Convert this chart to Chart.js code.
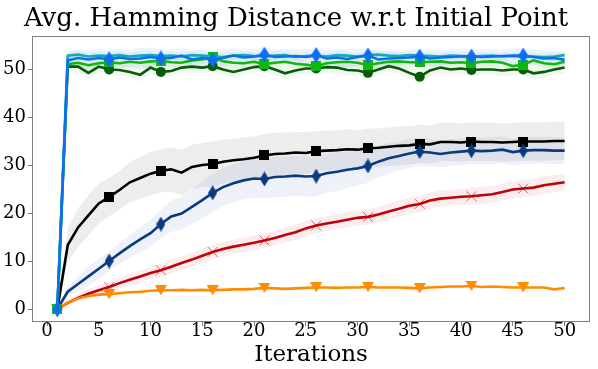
<!DOCTYPE html>
<html>
<head>
<meta charset="utf-8">
<script src="https://cdn.jsdelivr.net/npm/chart.js@4.4.1/dist/chart.umd.min.js"></script>
<style>
  html, body { margin: 0; padding: 0; background: #fff; }
</style>
</head>
<body>
<canvas id="chart" width="598" height="369"></canvas>
<script>
// iterations 1..50
const iterations = Array.from({ length: 50 }, (_, i) => i + 1)
const xTicks = [0, 5, 10, 15, 20, 25, 30, 35, 40, 45, 50]
const yTicks = [0, 10, 20, 30, 40, 50]

const blueMean = [0, 51.8, 52.3, 52.0, 52.3, 52.0, 52.4, 52.1, 52.2, 52.5, 52.2, 52.3, 52.8, 52.0, 52.3, 51.9, 52.3, 52.8, 52.4, 52.6, 53.0, 52.5, 52.6, 52.7, 52.5, 52.9, 52.2, 52.4, 52.1, 52.5, 52.8, 52.0, 52.2, 52.3, 52.4, 52.6, 52.2, 52.4, 52.5, 52.6, 52.6, 52.5, 52.6, 52.7, 52.8, 52.8, 52.5, 52.2, 52.3, 51.9]
const blueStd = [0, 1.5, 1.8, 1.8, 2.0, 2.0, 1.8, 1.8, 2.2, 2.0, 1.8, 1.8, 1.6, 2.0, 1.8, 2.0, 1.8, 1.6, 1.6, 1.6, 1.5, 1.6, 1.6, 1.5, 1.6, 1.5, 1.8, 1.8, 2.0, 1.8, 1.6, 1.8, 1.8, 1.6, 1.6, 1.6, 1.8, 1.6, 1.6, 1.5, 1.5, 1.6, 1.5, 1.5, 1.5, 1.5, 1.6, 1.6, 1.5, 1.5]

const tealMean = [0, 52.8, 53.0, 52.6, 52.8, 52.7, 52.9, 52.6, 52.8, 52.9, 52.7, 52.8, 52.6, 52.9, 52.8, 52.6, 52.5, 52.8, 52.9, 52.7, 52.6, 52.8, 52.9, 52.5, 52.7, 52.8, 52.6, 52.9, 52.8, 52.6, 52.9, 53.0, 52.8, 52.7, 52.9, 52.8, 52.7, 52.6, 52.8, 52.7, 52.6, 52.7, 52.8, 52.6, 52.7, 52.5, 52.6, 52.5, 52.6, 52.9]
const tealStd = [0, 0.8, 0.9, 0.8, 0.8, 0.9, 0.8, 0.8, 0.9, 0.8, 0.8, 0.8, 0.9, 0.8, 0.8, 0.8, 0.9, 0.8, 0.8, 0.8, 0.8, 0.9, 0.8, 0.8, 0.8, 0.8, 0.8, 0.9, 0.8, 0.8, 0.8, 0.8, 0.9, 0.8, 0.8, 0.8, 0.8, 0.8, 0.9, 0.8, 0.8, 0.8, 0.8, 0.9, 0.8, 0.8, 0.8, 0.8, 0.8, 0.8]

const greenMean = [0, 51.0, 51.3, 50.8, 51.2, 51.4, 51.2, 51.5, 51.3, 51.6, 51.7, 51.4, 51.3, 51.8, 52.0, 52.6, 51.6, 51.3, 51.2, 51.5, 51.0, 51.3, 51.5, 51.1, 50.9, 50.6, 51.2, 51.4, 51.5, 51.3, 50.8, 51.2, 51.5, 51.6, 51.4, 51.4, 51.5, 51.6, 51.3, 51.4, 51.2, 51.5, 51.6, 51.3, 50.6, 50.9, 51.8, 51.2, 51.0, 51.5]
const greenStd = [0, 1.0, 1.0, 1.1, 1.0, 1.0, 1.0, 1.1, 1.0, 1.0, 1.0, 1.0, 1.1, 1.0, 1.0, 1.0, 1.0, 1.1, 1.0, 1.0, 1.0, 1.0, 1.1, 1.0, 1.0, 1.0, 1.0, 1.0, 1.1, 1.0, 1.0, 1.0, 1.0, 1.0, 1.1, 1.0, 1.0, 1.0, 1.0, 1.0, 1.1, 1.0, 1.0, 1.0, 1.0, 1.0, 1.0, 1.0, 1.0, 1.0]

const darkGreenMean = [0, 50.5, 50.5, 49.2, 50.5, 49.9, 49.8, 49.4, 48.8, 50.3, 49.4, 49.6, 50.3, 50.5, 50.3, 50.6, 49.9, 49.4, 49.9, 50.4, 50.6, 49.9, 49.1, 49.7, 50.1, 50.1, 50.4, 50.3, 49.8, 49.7, 49.2, 49.9, 50.6, 50.1, 49.2, 48.4, 49.7, 50.3, 49.9, 50.1, 49.8, 49.9, 49.9, 49.7, 49.9, 49.9, 49.1, 49.4, 49.9, 50.3]
const darkGreenStd = [0, 1.2, 1.2, 1.3, 1.2, 1.2, 1.2, 1.3, 1.4, 1.2, 1.2, 1.2, 1.2, 1.2, 1.2, 1.2, 1.2, 1.3, 1.2, 1.2, 1.2, 1.2, 1.3, 1.2, 1.2, 1.2, 1.2, 1.2, 1.2, 1.2, 1.3, 1.2, 1.2, 1.2, 1.3, 1.4, 1.2, 1.2, 1.2, 1.2, 1.2, 1.2, 1.2, 1.2, 1.2, 1.2, 1.3, 1.2, 1.2, 1.2]

const blackMean = [0, 13.3, 17.0, 19.5, 22.0, 23.3, 24.8, 26.4, 27.3, 28.2, 28.8, 29.1, 28.4, 29.6, 30.0, 30.2, 30.7, 31.0, 31.2, 31.5, 32.0, 32.3, 32.4, 32.6, 32.5, 32.9, 33.0, 33.1, 33.3, 33.2, 33.5, 33.6, 33.8, 34.0, 34.1, 34.4, 34.3, 34.8, 34.8, 34.7, 34.9, 34.8, 34.8, 34.7, 34.8, 34.9, 34.9, 34.9, 35.0, 35.0]
const blackStd = [0, 3.5, 4.0, 4.2, 4.2, 4.0, 4.0, 4.2, 4.3, 4.5, 4.5, 4.6, 4.8, 4.6, 4.6, 4.7, 4.6, 4.5, 4.6, 4.5, 4.4, 4.5, 4.4, 4.3, 4.4, 4.2, 4.2, 4.1, 4.2, 4.0, 4.1, 4.0, 4.0, 4.1, 4.0, 4.0, 4.0, 4.0, 4.0, 4.0, 4.0, 4.0, 4.0, 4.0, 4.0, 4.0, 4.0, 4.0, 4.0, 4.0]

const navyMean = [0, 3.6, 5.2, 6.8, 8.4, 10.0, 11.6, 13.1, 14.5, 15.8, 17.7, 19.3, 19.9, 21.3, 22.7, 24.2, 25.4, 26.2, 26.8, 27.2, 27.1, 27.5, 27.6, 27.8, 27.6, 27.7, 28.3, 28.6, 29.0, 29.3, 29.8, 30.7, 31.4, 31.9, 32.4, 32.8, 32.6, 32.3, 32.6, 32.8, 33.0, 32.9, 33.0, 33.2, 32.7, 33.0, 33.1, 33.1, 33.0, 33.0]
const navyStd = [0, 1.0, 1.5, 2.0, 2.0, 2.0, 2.2, 2.4, 2.6, 2.8, 3.0, 3.2, 3.4, 3.6, 3.8, 4.0, 4.0, 4.0, 4.0, 4.0, 4.0, 4.2, 4.2, 4.2, 4.2, 4.2, 4.0, 4.0, 3.8, 3.6, 3.5, 3.3, 3.2, 3.0, 3.0, 3.0, 2.8, 2.8, 2.8, 2.8, 2.8, 2.8, 2.8, 2.8, 2.8, 2.8, 2.8, 2.8, 2.8, 2.8]

const redMean = [0, 1.3, 2.3, 3.2, 3.9, 4.6, 5.4, 6.1, 6.8, 7.5, 8.1, 8.8, 9.6, 10.3, 11.1, 11.9, 12.5, 13.0, 13.4, 13.8, 14.3, 14.8, 15.4, 16.0, 16.8, 17.4, 17.8, 18.2, 18.6, 19.0, 19.2, 19.7, 20.3, 20.9, 21.5, 21.9, 22.6, 23.0, 23.2, 23.4, 23.5, 23.7, 23.9, 24.4, 24.9, 25.1, 25.3, 25.8, 26.1, 26.4]
const redStd = [0, 0.5, 0.8, 1.0, 1.0, 1.0, 1.1, 1.2, 1.2, 1.3, 1.3, 1.4, 1.4, 1.5, 1.5, 1.5, 1.5, 1.5, 1.5, 1.5, 1.5, 1.5, 1.5, 1.6, 1.6, 1.6, 1.6, 1.6, 1.6, 1.6, 1.6, 1.6, 1.7, 1.7, 1.7, 1.7, 1.7, 1.7, 1.7, 1.7, 1.8, 1.8, 1.8, 1.8, 1.8, 1.8, 1.8, 1.8, 1.8, 1.8]

const orangeMean = [0, 1.4, 2.2, 2.7, 3.0, 3.1, 3.3, 3.5, 3.6, 3.8, 3.9, 3.9, 4.0, 3.9, 4.0, 3.9, 4.0, 4.1, 4.1, 4.2, 4.4, 4.3, 4.2, 4.3, 4.4, 4.5, 4.5, 4.4, 4.5, 4.5, 4.6, 4.5, 4.5, 4.5, 4.4, 4.3, 4.5, 4.6, 4.7, 4.7, 4.8, 4.6, 4.7, 4.6, 4.5, 4.5, 4.5, 4.5, 4.1, 4.4]
const orangeStd = [0, 0.3, 0.3, 0.3, 0.3, 0.3, 0.3, 0.3, 0.3, 0.3, 0.3, 0.3, 0.3, 0.3, 0.3, 0.3, 0.3, 0.3, 0.3, 0.3, 0.3, 0.3, 0.3, 0.3, 0.3, 0.3, 0.3, 0.3, 0.3, 0.3, 0.3, 0.3, 0.3, 0.3, 0.3, 0.3, 0.3, 0.3, 0.3, 0.3, 0.3, 0.3, 0.3, 0.3, 0.3, 0.3, 0.3, 0.3, 0.3, 0.3]

const FONT = "DejaVu Serif"
Chart.defaults.font.family = FONT
Chart.defaults.color = "#000"

// small canvas markers for shapes chart.js has no built-in for
function marker(shape, color, w, h) {
  const c = document.createElement("canvas")
  c.width = w
  c.height = h
  const g = c.getContext("2d")
  g.fillStyle = color
  g.beginPath()
  if (shape === "square") {
    g.rect(0, 0, w, h)
  } else if (shape === "diamond") {
    g.moveTo(w / 2, 0)
    g.lineTo(w, h / 2)
    g.lineTo(w / 2, h)
    g.lineTo(0, h / 2)
  } else if (shape === "tridown") {
    g.moveTo(0, 0)
    g.lineTo(w, 0)
    g.lineTo(w / 2, h)
  }
  g.closePath()
  g.fill()
  return c
}

const series = [
  { mean: blueMean, std: blueStd, color: "#0d6ef2", band: "rgba(40,110,240,0.08)", style: marker("diamond", "#0d6ef2", 10, 16), r: 6 },
  { mean: tealMean, std: tealStd, color: "#17a9b9", band: "rgba(0,175,190,0.08)", style: "circle", r: 0 },
  { mean: greenMean, std: greenStd, color: "#0fb80f", band: "rgba(0,180,0,0.08)", style: marker("square", "#0fb80f", 10, 10), r: 5 },
  { mean: darkGreenMean, std: darkGreenStd, color: "#075c07", band: "rgba(0,90,0,0.05)", style: "circle", r: 5 },
  { mean: navyMean, std: navyStd, color: "#0a3a80", band: "rgba(20,60,140,0.07)", style: marker("diamond", "#0a3a80", 9, 15), r: 6 },
  { mean: orangeMean, std: orangeStd, color: "#ff8c00", band: "rgba(255,140,0,0.05)", style: marker("tridown", "#ff8c00", 12, 10), r: 5 },
  { mean: blackMean, std: blackStd, color: "#000000", band: "rgba(0,0,0,0.07)", style: marker("square", "#000000", 10, 10), r: 5 },
  { mean: redMean, std: redStd, color: "#c0000a", band: "rgba(200,0,0,0.07)", style: "crossRot", r: 7 },
]

const toPoints = arr => arr.map((v, i) => ({ x: iterations[i], y: v }))

const datasets = []
// bands: lower edge then upper edge filled down to it
series.forEach(s => {
  const lo = s.mean.map((m, i) => m - s.std[i])
  const hi = s.mean.map((m, i) => m + s.std[i])
  const loIndex = datasets.length
  datasets.push({ data: toPoints(lo), borderWidth: 0, pointRadius: 0, fill: false, order: 20 })
  datasets.push({ data: toPoints(hi), borderWidth: 0, pointRadius: 0, fill: { target: loIndex }, backgroundColor: s.band, order: 20 })
})
series.forEach((s, k) => {
  datasets.push({
    data: toPoints(s.mean),
    borderColor: s.color,
    backgroundColor: s.color,
    borderWidth: 2.6,
    tension: 0,
    fill: false,
    order: k,
    pointStyle: s.style,
    pointRadius: ctx => (ctx.dataIndex % 5 === 0 ? s.r : 0),
    pointBorderWidth: s.style === "crossRot" ? 1 : 0,
    pointBorderColor: s.style === "crossRot" ? "rgba(200,0,10,0.6)" : s.color,
    pointBackgroundColor: s.color,
  })
})

const frame = {
  id: "frame",
  beforeDatasetsDraw(chart) {
    const { ctx, chartArea: a } = chart
    ctx.save()
    ctx.strokeStyle = "#808080"
    ctx.lineWidth = 1
    ctx.strokeRect(Math.round(a.left) + 0.5, Math.round(a.top) + 0.5, Math.round(a.right - a.left) - 1, Math.round(a.bottom - a.top) - 1)
    ctx.restore()
  },
}

new Chart(document.getElementById("chart"), {
  type: "line",
  data: { datasets },
  plugins: [frame],
  options: {
    responsive: false,
    animation: false,
    layout: { padding: { left: 0, right: 6, top: 0, bottom: 0 } },
    plugins: {
      legend: { display: false },
      tooltip: { enabled: false },
      filler: { drawTime: "beforeDatasetsDraw" },
      title: {
        display: true,
        fullSize: true,
        text: "Avg. Hamming Distance w.r.t Initial Point",
        color: "#000",
        font: { family: FONT, size: 26, weight: "normal", lineHeight: 1.15 },
        padding: { top: 4, bottom: 2 },
      },
    },
    scales: {
      x: {
        type: "linear",
        min: -1.45,
        max: 52.45,
        afterBuildTicks: scale => { scale.ticks = xTicks.map(v => ({ value: v })) },
        afterFit: scale => { scale.height = 47 },
        border: { display: false },
        grid: { drawOnChartArea: false, drawTicks: true, tickLength: 4, color: "#808080" },
        ticks: { color: "#000", font: { family: FONT, size: 18 }, padding: -5, maxRotation: 0 },
        title: { display: true, text: "Iterations", color: "#000", font: { family: FONT, size: 23 }, padding: { top: 0, bottom: 0 } },
      },
      y: {
        type: "linear",
        min: -2.7,
        max: 56.9,
        afterBuildTicks: scale => { scale.ticks = yTicks.map(v => ({ value: v })) },
        afterFit: scale => { scale.width = 32 },
        border: { display: false },
        grid: { drawOnChartArea: false, drawTicks: true, tickLength: 4, color: "#808080" },
        ticks: { color: "#000", font: { family: FONT, size: 18 }, padding: 2 },
      },
    },
  },
})
</script>
</body>
</html>
